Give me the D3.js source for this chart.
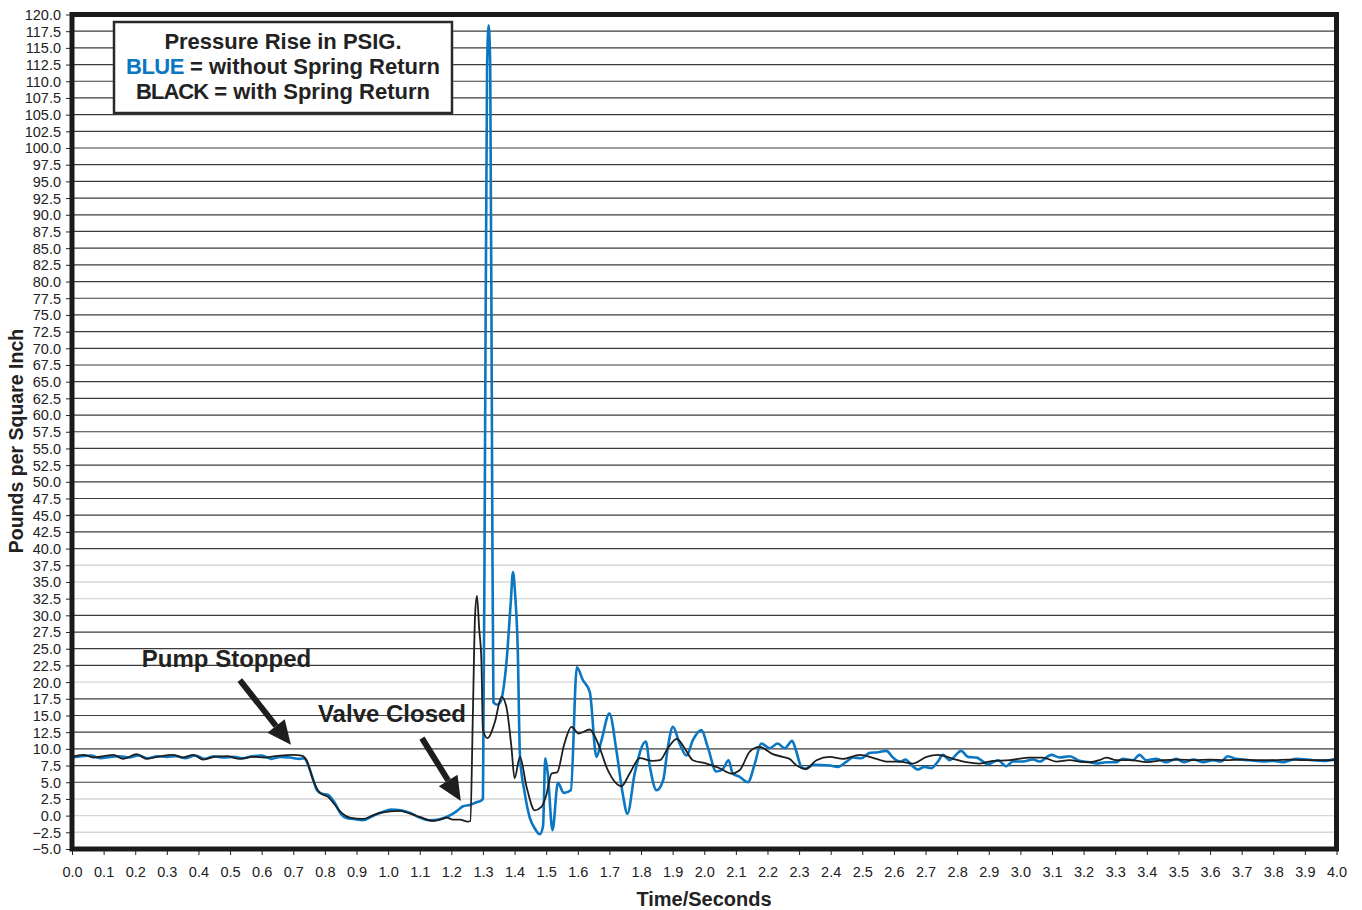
<!DOCTYPE html>
<html>
<head>
<meta charset="utf-8">
<script src="https://cdn.jsdelivr.net/npm/d3@7/dist/d3.min.js"></script>
<style>
  html, body { margin: 0; padding: 0; background: #fff; }
  svg { display: block; }
  .tick text { font-family: "Liberation Sans Narrow", "Liberation Sans", Arial, sans-serif; fill: #222; }
</style>
</head>
<body>
<svg id="chart" width="1362" height="910"></svg>
<script>
// ---- Data ----
const xTicks = d3.range(0, 41).map(i => i / 10);           // 0.0 … 4.0 seconds
const yTicks = d3.range(0, 51).map(i => -5 + i * 2.5);     // -5.0 … 120.0 psi
const lightGrid = [-2.5, 0, 2.5, 20, 32.5, 35, 37.5];

// BLUE = without Spring Return  (time in s, pressure in psig)
const blueTime = [0.00,0.03,0.06,0.09,0.12,0.15,0.18,0.21,0.24,0.27,0.30,0.33,0.36,0.39,0.42,0.45,0.48,0.51,0.54,0.57,0.60,0.63,0.66,0.69,0.72,0.735,0.745,0.76,0.775,0.79,0.81,0.83,0.85,0.87,0.89,0.92,0.95,0.98,1.01,1.04,1.07,1.10,1.13,1.16,1.19,1.215,1.237,1.258,1.28,1.296,1.300,1.306,1.313,1.318,1.323,1.329,1.333,1.345,1.355,1.374,1.388,1.395,1.402,1.41,1.417,1.432,1.448,1.465,1.48,1.49,1.497,1.505,1.52,1.537,1.556,1.578,1.597,1.616,1.638,1.659,1.675,1.70,1.722,1.742,1.757,1.78,1.815,1.828,1.849,1.87,1.885,1.901,1.922,1.944,1.964,1.991,2.011,2.038,2.059,2.077,2.09,2.112,2.138,2.16,2.18,2.207,2.232,2.255,2.278,2.29,2.307,2.32,2.344,2.397,2.423,2.45,2.471,2.497,2.523,2.55,2.576,2.597,2.618,2.637,2.655,2.676,2.697,2.718,2.739,2.755,2.776,2.813,2.834,2.861,2.898,2.929,2.955,2.976,3.007,3.04,3.061,3.098,3.124,3.156,3.187,3.219,3.24,3.272,3.303,3.324,3.356,3.377,3.398,3.43,3.461,3.493,3.519,3.548,3.577,3.61,3.635,3.656,3.682,3.725,3.767,3.80,3.83,3.872,3.925,3.96,4.00];
const blueValue = [8.7,8.9,9.0,8.6,8.8,8.9,8.7,9.0,8.6,8.9,8.8,8.9,8.6,9.0,8.5,8.9,8.7,8.8,8.6,8.9,9.0,8.5,8.8,8.7,8.5,8.6,7.8,5.8,3.8,3.3,3.1,2.0,0.3,-0.4,-0.5,-0.7,-0.1,0.5,0.9,0.8,0.4,-0.3,-0.7,-0.6,-0.1,0.6,1.4,1.6,2.0,2.3,2.6,50,112,118.4,112,50,17,16.6,17,22.8,32,36.5,33,25,9,3.4,-0.3,-2.0,-2.8,-1.6,8.6,6.3,-2.2,4.9,3.4,3.8,22.2,20.3,18.5,8.8,11.3,15.3,9.8,3.3,0.3,6.3,11.1,7.3,3.8,5.3,10.3,13.3,10.8,9.0,11.3,12.8,10.3,6.6,7.0,8.3,6.3,5.8,5.0,7.8,10.8,10.1,10.8,10.1,11.2,9.8,7.3,7.0,7.6,7.5,7.3,8.1,8.7,8.6,9.4,9.5,9.7,8.7,8.1,8.4,7.6,6.9,7.3,7.1,8.1,9.1,8.3,9.7,8.8,8.7,7.7,8.3,7.4,8.1,8.1,8.4,8.1,9.1,8.7,8.9,8.2,8.0,7.8,8.0,8.0,8.5,8.3,9.1,8.3,8.5,8.0,8.5,8.0,8.4,8.0,8.3,8.1,8.9,8.5,8.3,8.1,8.2,8.0,8.5,8.3,8.2,8.5];

// BLACK = with Spring Return
const blackTime = [0.00,0.036,0.068,0.10,0.131,0.162,0.205,0.236,0.27,0.32,0.35,0.384,0.415,0.45,0.49,0.531,0.57,0.61,0.658,0.70,0.726,0.742,0.763,0.784,0.81,0.83,0.853,0.879,0.92,0.95,0.974,1.037,1.07,1.10,1.142,1.17,1.185,1.205,1.227,1.252,1.260,1.268,1.275,1.281,1.288,1.295,1.300,1.315,1.337,1.359,1.374,1.39,1.40,1.417,1.438,1.464,1.485,1.50,1.517,1.535,1.556,1.58,1.603,1.638,1.664,1.695,1.738,1.764,1.796,1.837,1.86,1.885,1.913,1.938,1.964,2.007,2.049,2.086,2.112,2.144,2.175,2.217,2.248,2.27,2.29,2.321,2.355,2.397,2.439,2.492,2.545,2.576,2.618,2.66,2.703,2.739,2.787,2.829,2.871,2.913,2.966,3.03,3.071,3.113,3.156,3.187,3.219,3.25,3.272,3.303,3.35,3.40,3.45,3.50,3.55,3.60,3.65,3.70,3.75,3.80,3.85,3.90,4.00];
const blackValue = [8.8,9.1,8.7,8.9,9.1,8.5,9.2,8.5,8.8,9.1,8.7,9.1,8.4,8.8,8.9,8.5,8.8,8.7,9.0,9.1,9.0,8.3,5.3,3.4,2.8,1.7,0.4,-0.3,-0.5,0.0,0.4,0.7,0.3,-0.2,-0.8,-0.5,-0.3,-0.6,-0.6,-0.9,-0.8,15,30,32.9,28,23.3,12.8,11.6,13.9,17.8,16.3,10.3,5.6,8.8,4.3,0.8,1.3,3.0,6.3,6.5,10.5,13.3,12.3,12.9,10.8,6.8,4.4,6.3,8.6,8.2,8.3,10.1,11.5,10.1,8.3,7.8,7.1,6.3,6.8,9.6,10.3,9.2,8.8,8.5,7.6,7.0,8.3,8.8,8.5,9.1,8.5,8.1,8.1,7.8,8.8,9.1,8.5,8.0,7.8,8.2,8.3,8.7,8.7,8.1,8.3,8.1,8.0,8.3,8.7,8.3,8.3,8.0,8.3,8.4,8.3,8.4,8.3,8.4,8.3,8.3,8.4,8.3,8.3];

// Annotations (data units): text anchor + arrow tail/tip
const annotations = [
  { label: "Pump Stopped", tx: 0.221, ty: 22.25, from: [0.531, 20.3], to: [0.6925, 10.6] },
  { label: "Valve Closed", tx: 0.778, ty: 14.0,  from: [1.107, 11.6], to: [1.230, 2.2] }
];

// ---- Chart ----
const svg = d3.select("#chart");
const x = d3.scaleLinear().domain([0, 4]).range([72, 1336.5]);
const y = d3.scaleLinear().domain([-5, 120]).range([849, 14.5]);

const BLUE = "#0b77c2";
const FONT = "'Liberation Sans', Arial, Helvetica, sans-serif";

svg.append("defs").append("clipPath").attr("id", "plotclip")
  .append("rect").attr("x", x(0)).attr("y", y(120)).attr("width", x(4) - x(0)).attr("height", y(-5) - y(120));

// grid lines
svg.append("g").selectAll("line")
  .data(yTicks.filter(v => v > -5 && v < 120))
  .join("line")
  .attr("x1", x(0)).attr("x2", x(4))
  .attr("y1", d => y(d)).attr("y2", d => y(d))
  .attr("stroke", d => lightGrid.includes(d) ? "#d6d6d6" : "#3c3c3c")
  .attr("stroke-width", d => lightGrid.includes(d) ? 1.4 : 1.2);

// axes
const yAxis = svg.append("g").attr("transform", `translate(${x(0) - 2},0)`)
  .call(d3.axisLeft(y).tickValues(yTicks).tickFormat(d3.format(".1f")).tickSize(4).tickPadding(5));
yAxis.select(".domain").remove();
yAxis.selectAll(".tick line").attr("stroke", "#222");
yAxis.selectAll(".tick text").attr("font-size", 14.5).attr("dy", "0.34em");

const xAxis = svg.append("g").attr("transform", `translate(0,${y(-5) + 2})`)
  .call(d3.axisBottom(x).tickValues(xTicks).tickFormat(d3.format(".1f")).tickSize(4).tickPadding(12));
xAxis.select(".domain").remove();
xAxis.selectAll(".tick line").attr("stroke", "#222");
xAxis.selectAll(".tick text").attr("font-size", 14.5);

// series
const line = d3.line().x(d => x(d[0])).y(d => y(d[1])).curve(d3.curveMonotoneX);
const plot = svg.append("g").attr("clip-path", "url(#plotclip)");
plot.append("path")
  .datum(d3.zip(blueTime, blueValue))
  .attr("d", line).attr("fill", "none").attr("stroke", BLUE)
  .attr("stroke-width", 2.6).attr("stroke-linejoin", "round");
plot.append("path")
  .datum(d3.zip(blackTime, blackValue))
  .attr("d", line).attr("fill", "none").attr("stroke", "#1e1e1e")
  .attr("stroke-width", 1.8).attr("stroke-linejoin", "round");

// border
svg.append("rect")
  .attr("x", x(0)).attr("y", y(120)).attr("width", x(4) - x(0)).attr("height", y(-5) - y(120))
  .attr("fill", "none").attr("stroke", "#1a1a1a").attr("stroke-width", 5);

// legend box
const lg = svg.append("g");
lg.append("rect").attr("x", 114).attr("y", 22).attr("width", 338).attr("height", 91)
  .attr("fill", "#fff").attr("stroke", "#2a2a2a").attr("stroke-width", 2.5);
const lt = lg.append("text").attr("font-family", FONT).attr("font-weight", "bold")
  .attr("font-size", 22).attr("text-anchor", "middle").attr("fill", "#222");
lt.append("tspan").attr("x", 283).attr("y", 48.5).text("Pressure Rise in PSIG.");
const l2 = lt.append("tspan").attr("x", 283).attr("y", 74);
l2.append("tspan").attr("fill", BLUE).attr("letter-spacing", -0.5).text("BLUE");
l2.append("tspan").text(" = without Spring Return");
const l3 = lt.append("tspan").attr("x", 283).attr("y", 99);
l3.append("tspan").attr("letter-spacing", -1).text("BLACK");
l3.append("tspan").text(" = with Spring Return");

// annotations
annotations.forEach(a => {
  svg.append("text").attr("x", x(a.tx)).attr("y", y(a.ty))
    .attr("font-family", FONT).attr("font-weight", "bold").attr("font-size", 24)
    .attr("fill", "#222").text(a.label);
  const x1 = x(a.from[0]), y1 = y(a.from[1]), x2 = x(a.to[0]), y2 = y(a.to[1]);
  const ang = Math.atan2(y2 - y1, x2 - x1);
  const hl = 24, hw = 11;
  const bx = x2 - hl * Math.cos(ang), by = y2 - hl * Math.sin(ang);
  svg.append("line").attr("x1", x1).attr("y1", y1).attr("x2", bx).attr("y2", by)
    .attr("stroke", "#1e1e1e").attr("stroke-width", 6);
  const px = -Math.sin(ang), py = Math.cos(ang);
  svg.append("path")
    .attr("d", `M${x2},${y2}L${bx + px * hw},${by + py * hw}L${bx - px * hw},${by - py * hw}Z`)
    .attr("fill", "#1e1e1e");
});

// axis titles
svg.append("text").attr("x", 704).attr("y", 906).attr("text-anchor", "middle")
  .attr("font-family", FONT).attr("font-weight", "bold").attr("font-size", 20).attr("fill", "#222")
  .text("Time/Seconds");
svg.append("text").attr("transform", "translate(23,441) rotate(-90)").attr("text-anchor", "middle")
  .attr("font-family", FONT).attr("font-weight", "bold").attr("font-size", 19.5).attr("fill", "#222")
  .text("Pounds per Square Inch");
</script>
</body>
</html>
